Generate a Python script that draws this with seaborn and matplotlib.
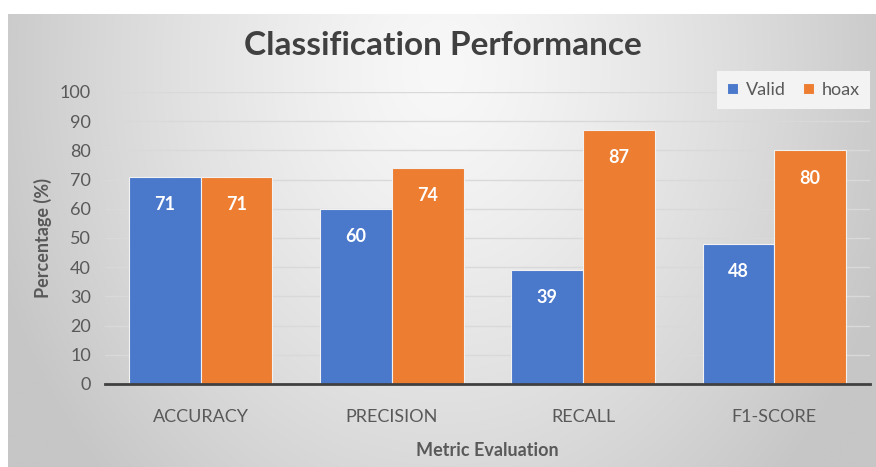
import numpy as np
import pandas as pd
import matplotlib
matplotlib.use("Agg")
import matplotlib.pyplot as plt
import seaborn as sns

metrics = ["ACCURACY", "PRECISION", "RECALL", "F1-SCORE"]
valid = [71, 60, 39, 48]
hoax = [71, 74, 87, 80]
series_names = ["Valid", "hoax"]
yticks = [0, 10, 20, 30, 40, 50, 60, 70, 80, 90, 100]

df = pd.DataFrame({
    "Metric": metrics * 2,
    "Class": [series_names[0]] * len(metrics) + [series_names[1]] * len(metrics),
    "Value": valid + hoax,
})

sns.set_theme(style="white")
plt.rcParams["font.family"] = ["Lato", "DejaVu Sans"]

W, H = 876, 467
fig = plt.figure(figsize=(W / 100, H / 100), dpi=100)
fig.patch.set_facecolor("white")

# gradient background panel
bg = fig.add_axes([8 / W, 0, 1 - 8 / W, 1 - 14 / H], zorder=-5)
xs = np.linspace(0, 1, 400)
ys = np.linspace(0, 1, 240)
X, Y = np.meshgrid(xs, ys)
d = np.sqrt(((X - 0.5) / 0.55) ** 2 + ((Y - 0.12) / 1.3) ** 2)
v = 248 - 50 * np.clip(d, 0, 1) ** 1.3
img = np.dstack([v, v, v]) / 255.0
bg.imshow(img, aspect="auto", extent=[0, 1, 1, 0], interpolation="bilinear")
bg.set_axis_off()

ax = fig.add_axes([105 / W, 1 - 384 / H, 765 / W, 292 / H])
ax.set_facecolor("none")

sns.barplot(data=df, x="Metric", y="Value", hue="Class",
            palette=["#4A78CB", "#ED7D31"], width=0.75, ax=ax,
            edgecolor="#f2f2f2", linewidth=0.8, saturation=1, zorder=3)

for c in ax.containers:
    ax.bar_label(c, padding=-26, color="white", fontweight="bold", fontsize=13)

ax.set_ylim(0, 100)
ax.set_yticks(yticks)
ax.set_xlim(-0.5, 3.5)
ax.grid(axis="y", color="#d9d9d9", linewidth=1, zorder=0)
ax.set_axisbelow(True)
for s in ["top", "right", "left"]:
    ax.spines[s].set_visible(False)
ax.spines["bottom"].set_color("#404040")
ax.spines["bottom"].set_linewidth(2)
ax.spines["bottom"].set_zorder(4)
ax.tick_params(axis="both", length=0, labelsize=13, labelcolor="#595959")
ax.tick_params(axis="x", pad=18)
ax.tick_params(axis="y", pad=10)

ax.set_xlabel("Metric Evaluation", fontsize=13, fontweight="bold", color="#595959", labelpad=12)
ax.set_ylabel("Percentage (%)", fontsize=13, fontweight="bold", color="#595959", labelpad=6)

fig.text(0.5 * (237 + 648) / W, 1 - 45 / H, "Classification Performance",
         ha="center", va="center", fontsize=24, fontweight="bold", color="#404040")

leg = ax.legend(loc="center", bbox_to_anchor=(0.9, 1.007), ncol=2,
                frameon=True, handlelength=0.6, handleheight=0.6,
                handletextpad=0.4, columnspacing=1.0, fontsize=13,
                facecolor="#f3f3f3", edgecolor="none", framealpha=1,
                borderpad=0.5)
for t in leg.get_texts():
    t.set_color("#595959")
leg.get_frame().set_boxstyle("square", pad=0.1)

fig.savefig("out.png", dpi=100)
